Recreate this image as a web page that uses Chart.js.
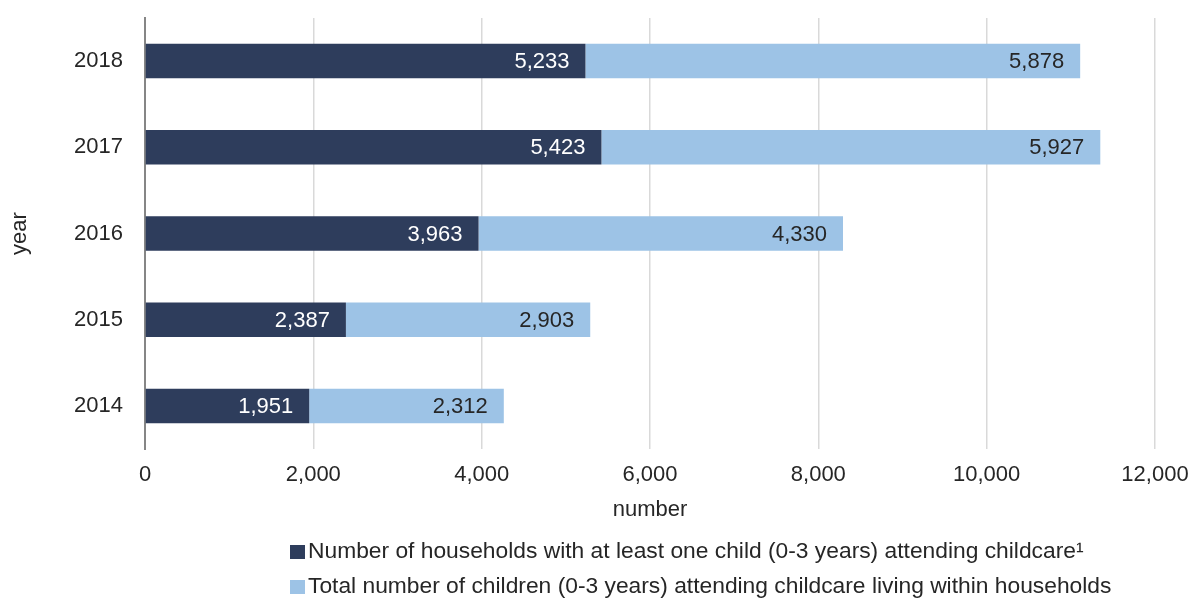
<!DOCTYPE html>
<html>
<head>
    <title>Childcare households</title>
    <script src="https://cdn.jsdelivr.net/npm/chart.js"></script>
    <style>
        body {
            margin: 0;
            background: #ffffff;
            font-family: "Liberation Sans", Arial, sans-serif;
        }
        .wrap {
            position: relative;
            width: 1192px;
            height: 601px;
        }
        .legend {
            position: absolute;
            left: 290px;
            top: 533px;
            font-size: 22.8px;
            color: #262626;
        }
        .legend-item {
            height: 35px;
            line-height: 34px;
            white-space: nowrap;
        }
        .legend-box {
            display: inline-block;
            width: 15px;
            height: 14px;
            margin-right: 3px;
            vertical-align: -1px;
        }
    </style>
</head>
<body>
    <div class="wrap">
        <canvas id="myChart" width="1192" height="601"></canvas>
        <div class="legend" id="legend"></div>
    </div>

    <script>
        // data
        const years = ['2018', '2017', '2016', '2015', '2014'];
        const households = [5233, 5423, 3963, 2387, 1951];
        const children = [5878, 5927, 4330, 2903, 2312];
        const seriesNames = [
            'Number of households with at least one child (0-3 years) attending childcare\u00B9',
            'Total number of children (0-3 years) attending childcare living within households'
        ];
        const xTicks = [0, 2000, 4000, 6000, 8000, 10000, 12000];

        const darkBlue = '#2e3d5c';
        const lightBlue = '#9dc3e6';
        const textColor = '#262626';
        const fontFamily = '"Liberation Sans", Arial, sans-serif';

        // value labels inside the end of each bar segment
        const barLabels = {
            id: 'barLabels',
            afterDatasetsDraw(chart) {
                const ctx = chart.ctx;
                ctx.save();
                ctx.font = '22px ' + fontFamily;
                ctx.textAlign = 'right';
                ctx.textBaseline = 'middle';
                chart.data.datasets.forEach((ds, i) => {
                    const meta = chart.getDatasetMeta(i);
                    meta.data.forEach((bar, j) => {
                        ctx.fillStyle = i === 0 ? '#ffffff' : textColor;
                        ctx.fillText(ds.data[j].toLocaleString('en-US'), bar.x - 16, bar.y + 1);
                    });
                });
                ctx.restore();
            }
        };

        const ctx = document.getElementById('myChart').getContext('2d');
        const myChart = new Chart(ctx, {
            type: 'bar',
            data: {
                labels: years,
                datasets: [
                    { label: seriesNames[0], data: households, backgroundColor: darkBlue },
                    { label: seriesNames[1], data: children, backgroundColor: lightBlue }
                ]
            },
            options: {
                indexAxis: 'y',
                responsive: false,
                animation: false,
                categoryPercentage: 1,
                barPercentage: 0.4,
                layout: {
                    padding: { top: 18, right: 37, bottom: 71, left: 0 }
                },
                plugins: {
                    legend: { display: false },
                    tooltip: { enabled: false }
                },
                scales: {
                    x: {
                        stacked: true,
                        min: 0,
                        max: 12000,
                        afterBuildTicks: scale => {
                            scale.ticks = xTicks.map(v => ({ value: v }));
                        },
                        afterFit: scale => {
                            scale.height = 81;
                            scale.paddingLeft = 0;
                            scale.paddingRight = 0;
                        },
                        grid: {
                            color: '#d9d9d9',
                            lineWidth: 1.5,
                            drawTicks: false
                        },
                        border: { display: false },
                        ticks: {
                            color: textColor,
                            padding: 13,
                            font: { size: 22, family: fontFamily },
                            callback: v => v.toLocaleString('en-US')
                        },
                        title: {
                            display: true,
                            text: 'number',
                            color: textColor,
                            padding: { top: 0, bottom: 7 },
                            font: { size: 22, family: fontFamily }
                        }
                    },
                    y: {
                        stacked: true,
                        afterFit: scale => {
                            scale.width = 145;
                            scale.paddingTop = 0;
                            scale.paddingBottom = 0;
                        },
                        grid: { display: false, drawTicks: false },
                        border: { display: true, color: '#868686', width: 2 },
                        ticks: {
                            color: textColor,
                            padding: 22,
                            font: { size: 22, family: fontFamily }
                        },
                        title: {
                            display: true,
                            text: 'year',
                            color: textColor,
                            padding: { top: 7, bottom: 0 },
                            font: { size: 22, family: fontFamily }
                        }
                    }
                }
            },
            plugins: [barLabels]
        });

        // legend, stacked and left aligned as in the original
        const legend = document.getElementById('legend');
        [darkBlue, lightBlue].forEach((c, i) => {
            const item = document.createElement('div');
            item.className = 'legend-item';
            const box = document.createElement('span');
            box.className = 'legend-box';
            box.style.background = c;
            item.appendChild(box);
            item.appendChild(document.createTextNode(seriesNames[i]));
            legend.appendChild(item);
        });
    </script>
</body>
</html>
